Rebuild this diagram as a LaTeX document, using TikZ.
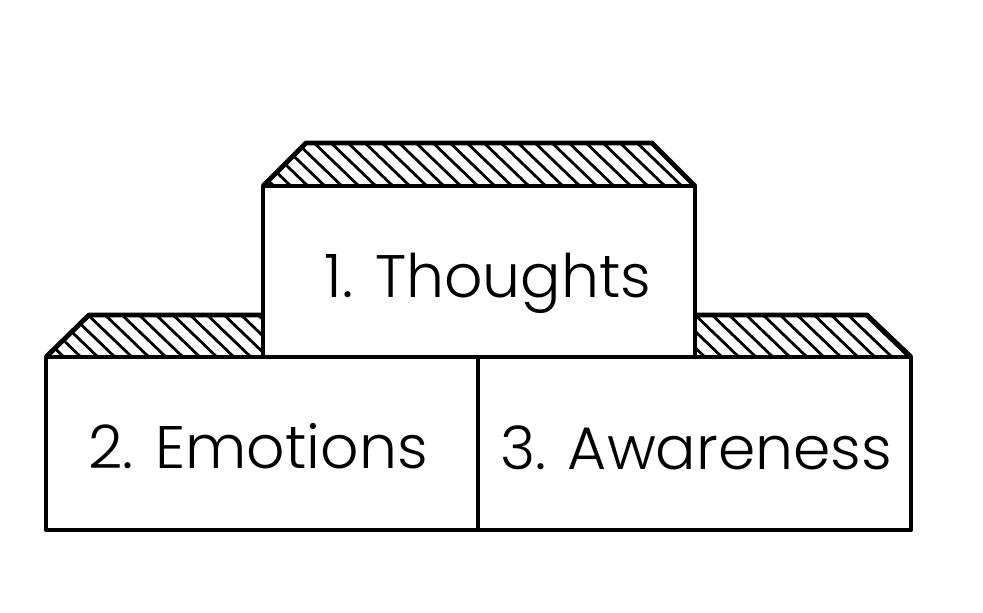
\documentclass[tikz,border=0pt]{standalone}
\usepackage{fontspec}
\setmainfont{Poppins}[UprightFont=* Light]
\usetikzlibrary{calc}

\tikzset{
    blockline/.style={line width=2.4pt, line join=round},
    hatchline/.style={line width=1.4pt},
    blocktext/.style={font=\fontsize{30}{36}\selectfont, inner sep=0pt, anchor=base}
}

\begin{document}
\begin{tikzpicture}[x=0.5pt, y=-0.5pt]

    % Page frame
    \useasboundingbox (0, 0) rectangle (983, 613);

    % --- Top faces (hatched) ---
    % Top block
    \begin{scope}
        \clip (306, 143) -- (652, 143) -- (695, 186) -- (263, 186) -- cycle;
        \foreach \x in {158, 175, ..., 720}
            \draw[hatchline] (\x, 140) -- (\x + 52, 190);
    \end{scope}
    \draw[blockline] (263, 186) -- (306, 143) -- (652, 143) -- (695, 186);

    % Left block
    \begin{scope}
        \clip (89, 315) -- (263, 315) -- (263, 357) -- (46, 357) -- cycle;
        \foreach \x in {0, 17, ..., 280}
            \draw[hatchline] (\x, 312) -- (\x + 50, 360);
    \end{scope}
    \draw[blockline] (46, 357) -- (89, 315) -- (263, 315);

    % Right block
    \begin{scope}
        \clip (695, 315) -- (867, 315) -- (911, 357) -- (695, 357) -- cycle;
        \foreach \x in {658, 675, ..., 900}
            \draw[hatchline] (\x, 312) -- (\x + 50, 360);
    \end{scope}
    \draw[blockline] (695, 315) -- (867, 315) -- (911, 357);

    % --- Front faces ---
    \draw[blockline] (263, 186) rectangle (695, 357);
    \draw[blockline] (46, 357) rectangle (478, 530);
    \draw[blockline] (478, 357) rectangle (911, 530);

    % Labels
    \node[blocktext] (thoughts) at (488, 298) {1. Thoughts};
    \node[blocktext] (emotions) at (258, 468) {2. Emotions};
    \node[blocktext] (awareness) at (696, 470) {3. Awareness};

\end{tikzpicture}
\end{document}
